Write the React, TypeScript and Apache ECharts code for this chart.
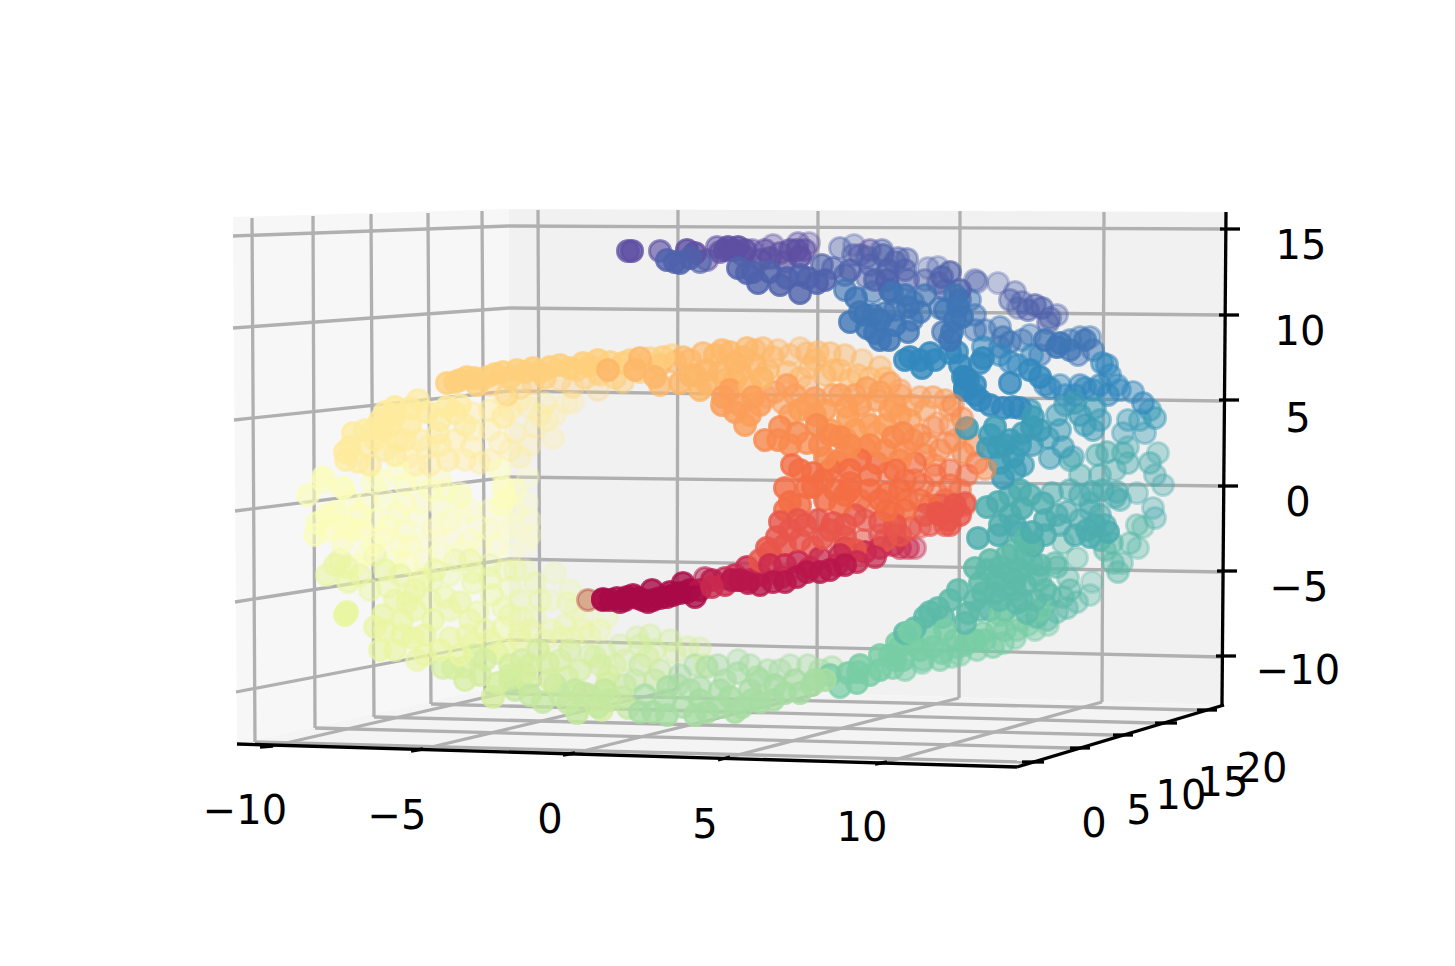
import React, { useEffect, useRef } from "react";
import * as echarts from "echarts";

// Projected picture coordinates: [x, y, depth] (depth 1 = nearest, 0.3 = farthest)
type P = number[];
const purple: P[] = [[632,251,.9],[628,251,.8],[660,251,.7],[687,250,.95],[695,253,.9],[707,260,.6],[717,247,.6],[728,247,.9],[738,247,.9],[733,250,.9],[725,250,.85],[752,250,.5],[743,255,.7],[773,245,.4],[780,253,.6],[798,243,.45],[809,243,.35],[797,250,.7],[800,257,.8],[770,258,.7],[760,260,.7],[745,250,.8],[720,252,.7],[765,250,.6],[790,250,.7],[805,250,.6],[785,262,.7],[870,250,.5],[860,255,.5]];
const indigo: P[] = [[667,260,.95],[680,263,1],[675,262,1],[738,268,.9],[747,273,.95],[758,283,1],[753,272,.9],[787,278,1],[800,293,1],[817,283,1],[808,278,1],[822,265,.7],[833,268,.6],[840,248,.45],[854,245,.35],[850,270,.7],[853,255,.5],[867,257,.5],[882,250,.5],[883,255,.65],[907,259,.5],[898,258,.5],[888,270,.8],[887,280,.8],[908,280,.6],[867,278,.5],[928,268,.35],[938,267,.35],[942,277,.7],[938,283,.55],[975,280,.4],[977,282,.4],[998,283,.35],[1015,292,.4],[1022,302,.45],[1018,308,.4],[1035,305,.6],[1042,308,.6],[1057,315,.4],[1048,323,.5],[770,272,.9],[780,285,1],[800,275,.85],[825,280,.85],[845,275,.65],[870,265,.6],[875,280,.75],[890,290,.8],[905,270,.6],[895,262,.55],[925,280,.5],[950,272,.7],[945,290,.6],[960,290,.75],[1010,300,.5],[1028,310,.6],[1050,318,.5],[690,258,1],[700,262,.7]];
const midBlue: P[] = [[845,290,.7],[856,298,1],[873,292,.6],[892,293,.8],[913,302,.6],[908,307,.8],[850,322,1],[873,315,.8],[885,313,.7],[912,320,.7],[908,332,.8],[867,328,1],[875,333,1],[889,340,1],[940,308,.6],[958,307,.9],[962,317,1],[970,300,.55],[955,295,.8],[943,332,.7],[952,332,.9],[985,330,.5],[1000,327,.5],[1003,337,.6],[1010,342,.6],[1022,340,.5],[1030,335,.45],[1057,347,.9],[1060,343,.9],[1080,337,.45],[1090,337,.45],[1085,340,.7],[1093,350,.6],[1078,355,.55],[860,312,.8],[880,320,.9],[895,325,.9],[895,310,.7],[925,295,.7],[905,295,.8],[920,312,.75],[955,320,.9],[945,310,.75],[960,300,.7],[975,315,.55],[950,340,.85],[1000,347,.55],[1045,340,.8],[1070,350,.75],[1070,340,.5],[880,340,1],[865,315,.8],[975,330,.55],[1040,355,.55]];
const blue: P[] = [[910,357,1],[922,368,1],[930,353,1],[920,360,1],[957,352,.8],[950,353,.8],[983,347,.6],[980,363,.8],[965,377,1],[965,388,1],[963,377,1],[965,390,1],[983,358,.9],[1010,362,.6],[1032,355,.55],[1010,383,1],[1040,377,.9],[1050,388,.6],[1065,395,.55],[1107,365,.6],[1102,363,.6],[1117,385,.5],[1133,392,.5],[1085,388,.6],[1093,390,.6],[1108,395,.6],[1143,403,.6],[980,400,1],[1003,408,1],[1013,407,.8],[975,395,.9],[990,405,1],[968,380,1],[960,365,1],[975,385,1],[1030,370,.9],[1018,365,.55],[1045,385,.6],[1060,385,.5],[1080,385,.55],[1075,395,.6],[1100,385,.6],[1120,390,.5],[1000,355,.6],[1110,375,.55],[935,360,1],[905,360,1],[1020,408,.8]];
const tealBlue: P[] = [[995,427,1],[1033,417,.8],[1032,427,1],[1023,433,.8],[1032,445,.7],[1057,415,.6],[1080,415,.7],[1095,408,.6],[1093,430,.6],[1075,403,.65],[1048,438,.6],[1063,447,.6],[1050,458,.6],[1073,457,.5],[1155,418,.55],[1128,420,.5],[1123,433,.45],[1145,433,.45],[998,447,1],[1013,457,.9],[1023,465,.7],[988,448,1],[1000,463,1],[1003,478,1],[967,428,1],[1010,440,.85],[1030,410,.7],[1040,430,.85],[1005,445,.95],[1020,445,.8],[1015,470,.75],[990,435,1],[1060,430,.6],[1100,420,.55],[1085,425,.6],[1065,405,.55],[1150,410,.55],[1140,420,.5]];
const teal: P[] = [[1097,455,.55],[1107,452,.55],[1123,453,.5],[1128,447,.45],[1128,463,.5],[1158,453,.4],[1150,463,.5],[1155,475,.45],[1163,485,.4],[1080,475,.5],[1070,460,.55],[1020,490,.8],[1070,490,.55],[1092,492,.7],[1103,490,.6],[1117,492,.55],[1115,497,.55],[1137,493,.4],[1090,503,.5],[1052,493,.6],[1043,503,.8],[1022,508,.9],[998,502,1],[987,507,1],[1067,512,.6],[1057,515,.7],[1153,508,.4],[1155,518,.4],[1000,525,1],[978,538,1],[998,535,.95],[1020,533,.8],[1032,532,.95],[1033,545,.85],[1080,520,.6],[1087,530,.8],[1090,537,.8],[1108,532,.9],[1105,525,.65],[1010,495,.8],[1010,515,.9],[1015,525,.9],[1045,520,.8],[1060,525,.65],[1075,535,.75],[1095,525,.8],[1100,540,.6],[1100,515,.6],[1120,500,.5],[1080,495,.6],[1090,510,.55],[1045,535,.8],[1100,475,.5],[1115,470,.45],[1030,495,.8]];
const seaGreen: P[] = [[1013,550,.8],[1007,555,.8],[1025,555,.8],[1032,563,.8],[1037,575,.7],[1040,580,.6],[1112,543,.6],[1105,550,.55],[1130,543,.45],[1138,548,.4],[1137,525,.45],[1143,527,.4],[1063,543,.45],[1055,563,.6],[1077,558,.4],[1068,578,.45],[1092,582,.35],[1113,563,.5],[1122,563,.45],[1118,572,.5],[1057,567,.6],[975,568,1],[987,570,1],[1000,567,.9],[1010,572,.9],[958,590,1],[980,583,1],[997,580,.9],[983,593,.95],[995,593,.95],[1003,587,.85],[938,608,1],[943,617,.95],[925,617,1],[915,628,1],[905,633,1],[968,613,.9],[965,623,.9],[980,610,.7],[1022,600,.8],[1017,603,.75],[1035,600,.7],[1050,595,.6],[1063,597,.55],[1077,602,.45],[1067,608,.5],[1027,613,.7],[1047,620,.5],[1037,617,.6],[1057,612,.5],[1000,600,.75],[1015,590,.7],[1025,585,.8],[1045,590,.7],[1005,610,.7],[1045,605,.6],[1015,580,.85],[1020,570,.85],[1040,565,.75],[1030,545,.85],[990,560,.9],[1025,540,.9],[975,600,.85],[950,600,.95],[930,612,1],[990,610,.7],[1070,590,.55],[1090,595,.4]];
const green: P[] = [[997,628,.6],[983,633,.7],[972,640,.7],[1017,630,.55],[1028,625,.5],[1048,625,.45],[1003,643,.55],[993,647,.6],[977,650,.55],[957,647,.6],[952,657,.5],[942,653,.7],[923,660,.6],[922,663,.5],[933,647,.85],[913,643,.9],[900,647,.9],[905,670,.6],[1015,638,.5],[910,632,1],[897,643,.95],[880,655,1],[903,660,.9],[858,672,1],[848,673,1],[870,675,.85],[857,683,.85],[840,687,.8],[893,668,.7],[830,675,.85],[880,670,.9],[890,655,.9],[920,650,.95],[930,635,.9],[945,630,.95],[955,640,.75],[965,645,.65],[985,640,.7],[1005,630,.6],[1020,620,.55],[1035,630,.5],[1000,615,.7],[960,655,.5],[975,640,.7],[940,660,.6],[895,660,.8],[860,665,.9],[1040,610,.6]];
const lightGreen: P[] = [[832,667,.45],[820,670,.5],[808,665,.45],[812,685,.9],[800,693,.9],[785,693,.9],[773,700,.85],[760,702,.9],[742,707,.8],[730,697,.85],[720,707,.9],[707,712,.95],[768,670,.45],[780,670,.45],[757,677,.55],[738,660,.4],[718,665,.5],[738,673,.6],[707,667,.5],[700,687,.6],[683,707,.7],[667,715,.9],[653,712,.85],[640,712,.8],[668,687,.7],[678,685,.55],[795,680,.7],[775,685,.8],[750,690,.7],[760,680,.6],[720,690,.7],[700,700,.8],[690,690,.6],[665,700,.75],[645,695,.65],[790,665,.4],[750,665,.45],[725,680,.6],[680,675,.5],[695,665,.45],[735,712,.85],[695,715,.95],[752,700,.85],[815,680,.85],[825,680,.85]];
const yellowGreen: P[] = [[628,708,.7],[655,680,.55],[635,680,.5],[622,697,.6],[577,713,.9],[598,707,.9],[568,703,.8],[543,702,.8],[605,690,.8],[583,693,.8],[625,685,.6],[610,700,.8],[590,695,.75],[560,695,.7],[575,690,.75],[555,685,.7],[530,695,.8],[515,690,.75],[510,680,.7],[660,670,.45],[640,665,.45]];
const paleGreen: P[] = [[637,637,.4],[650,635,.4],[670,640,.4],[688,647,.35],[700,648,.35],[648,657,.45],[675,653,.4],[625,660,.4],[705,665,.45],[605,653,.4],[607,683,.6],[602,710,.75],[567,677,.65],[608,675,.55],[595,657,.45],[528,683,.75],[525,673,.7],[493,697,.85],[498,683,.8],[480,675,.8],[548,663,.75],[538,650,.7],[522,660,.7],[497,653,.6],[465,667,.7],[453,668,.7],[443,668,.7],[655,650,.4],[620,645,.35],[640,645,.4],[615,665,.45],[600,665,.5],[590,655,.4],[580,670,.6],[560,660,.6],[570,650,.55],[530,665,.7],[510,665,.7],[510,675,.75],[485,660,.7],[550,680,.75],[475,655,.65],[465,680,.75]];
const lime: P[] = [[450,638,.6],[467,635,.55],[472,643,.6],[417,660,.6],[380,650,.7],[375,627,.7],[383,615,.7],[402,620,.7],[413,638,.75],[402,635,.7],[433,620,.65],[347,612,.9],[345,615,.9],[407,603,.55],[408,595,.5],[370,590,.5],[348,582,.65],[327,575,.6],[335,565,.6],[347,567,.55],[388,587,.5],[423,580,.5],[432,580,.45],[450,575,.4],[445,597,.5],[460,602,.6],[478,612,.5],[503,608,.5],[492,595,.5],[473,583,.5],[473,572,.5],[510,587,.35],[505,570,.35],[525,570,.3],[535,583,.4],[555,573,.3],[570,590,.3],[550,600,.3],[568,603,.35],[503,628,.5],[522,618,.4],[535,617,.35],[520,633,.45],[552,630,.4],[562,637,.35],[572,638,.4],[590,635,.35],[583,630,.35],[583,618,.3],[607,617,.3],[588,600,.9],[340,560,.6],[360,575,.55],[375,555,.55],[385,570,.6],[400,575,.55],[415,590,.55],[430,600,.5],[395,600,.6],[385,630,.7],[395,650,.7],[425,635,.7],[440,650,.7],[425,655,.65],[415,610,.6],[435,570,.5],[455,560,.45],[470,560,.45],[490,565,.4],[490,578,.45],[515,570,.35],[520,600,.4],[540,600,.35],[530,630,.45],[510,615,.45],[485,630,.55],[470,620,.55],[450,610,.55],[490,640,.6],[460,655,.7],[505,650,.65],[520,640,.55],[545,640,.45],[565,625,.35],[575,610,.3],[600,630,.35]];
const paleYellow: P[] = [[308,495,.7],[323,482,.5],[343,488,.5],[367,502,.5],[317,523,.7],[315,535,.7],[327,515,.7],[335,512,.7],[343,542,.6],[352,530,.65],[362,530,.6],[367,553,.55],[355,565,.5],[383,535,.5],[398,513,.45],[405,503,.5],[417,517,.4],[422,503,.35],[395,560,.5],[407,563,.5],[420,577,.45],[440,505,.45],[460,497,.45],[462,515,.35],[433,530,.35],[453,537,.35],[478,527,.35],[463,550,.4],[440,553,.45],[480,547,.35],[497,545,.35],[505,497,.65],[502,505,.6],[513,525,.3],[530,520,.3],[525,543,.3],[527,503,.3],[323,477,.7],[343,488,.6],[372,482,.5],[398,470,.55],[440,480,.45],[460,493,.45],[528,477,.3],[503,487,.6],[330,530,.65],[345,525,.65],[360,515,.6],[350,500,.55],[375,520,.55],[375,545,.55],[390,525,.5],[405,530,.45],[410,545,.45],[425,540,.4],[425,560,.45],[450,520,.35],[470,510,.35],[445,490,.45],[430,490,.5],[420,480,.5],[405,485,.55],[385,500,.5],[380,480,.5],[490,530,.35],[470,540,.35],[505,530,.3],[515,510,.35],[490,510,.4],[500,470,.5],[515,490,.5],[530,535,.3],[510,555,.3],[440,525,.35],[400,545,.5]];
const yellow: P[] = [[345,452,.8],[346,460,.75],[358,462,.7],[353,433,.8],[367,447,.6],[383,430,.8],[395,407,1],[395,415,.9],[380,420,.8],[397,440,.7],[418,400,.7],[427,412,.9],[447,407,.85],[455,413,.7],[473,413,.45],[473,430,.4],[438,433,.65],[420,440,.55],[448,460,.55],[428,447,.5],[408,457,.5],[480,463,.4],[472,447,.4],[503,417,.6],[505,397,.45],[528,407,.35],[545,403,.35],[567,403,.3],[553,438,.3],[535,427,.35],[515,433,.35],[500,443,.35],[520,457,.35],[547,420,.3],[573,402,.25],[365,430,.75],[375,440,.75],[390,425,.85],[410,425,.8],[405,440,.65],[385,450,.65],[370,465,.65],[395,455,.6],[415,465,.5],[430,465,.5],[440,445,.55],[440,420,.7],[465,425,.6],[455,440,.5],[465,460,.45],[490,430,.4],[490,410,.5],[510,410,.45],[520,400,.4],[540,415,.35],[555,415,.3],[530,445,.3],[510,450,.35],[490,460,.4],[460,405,.75],[410,408,.9],[385,412,.85],[375,428,.8],[350,447,.8]];
const amber: P[] = [[447,383,.95],[455,382,.95],[467,377,.9],[477,385,.9],[487,377,.7],[503,372,1],[517,370,.95],[533,368,1],[550,367,1],[560,365,.95],[577,370,.7],[597,373,.45],[598,360,.9],[583,363,.9],[573,387,.35],[598,390,.3],[533,383,.5],[507,395,.45],[623,363,.8],[623,382,.5],[600,375,.5],[648,368,.5],[663,357,.75],[672,355,.55],[460,380,.9],[475,378,.85],[495,374,.95],[510,378,.8],[525,372,1],[540,372,.95],[570,368,.9],[590,366,.85],[545,378,.7],[490,385,.5],[520,388,.4],[560,380,.45],[585,378,.5],[610,362,.75],[630,360,.7],[650,358,.6],[615,378,.6],[640,372,.7]];
const apricot: P[] = [[608,370,1],[640,358,.8],[635,370,.95],[655,377,.9],[680,383,.9],[683,357,.65],[703,353,.7],[722,350,.75],[707,370,.9],[707,383,.9],[725,380,.6],[747,348,.7],[735,363,.95],[743,357,.8],[763,348,.55],[778,350,.45],[773,357,.55],[762,378,.95],[750,387,.95],[800,348,.4],[807,353,.5],[818,352,.55],[830,353,.55],[810,367,.6],[840,370,.55],[833,370,.55],[788,372,.55],[862,360,.4],[858,375,.5],[880,367,.5],[660,365,.7],[675,362,.7],[690,360,.7],[715,355,.8],[730,352,.75],[695,375,.85],[720,372,.85],[740,372,.9],[755,365,.8],[768,370,.7],[755,350,.6],[790,355,.45],[815,360,.5],[845,355,.5],[825,375,.6],[800,378,.55],[850,380,.55],[870,378,.5],[885,378,.55],[735,380,.8],[700,390,.9],[690,375,.85],[660,385,.75]];
const orange: P[] = [[723,397,.9],[722,405,1],[753,397,.95],[767,397,.5],[750,415,1],[745,425,1],[787,385,.8],[807,387,.4],[783,403,.6],[807,405,.85],[833,395,.6],[847,407,.8],[867,388,.7],[877,400,.7],[890,383,.6],[900,395,.5],[900,390,.5],[920,397,.5],[933,397,.55],[890,410,.8],[910,420,.7],[848,417,.85],[865,417,.45],[730,390,.9],[740,405,1],[760,405,.9],[735,412,.95],[775,392,.7],[795,395,.7],[815,398,.8],[825,410,.85],[840,395,.7],[855,395,.7],[860,405,.8],[880,392,.65],[895,405,.7],[912,405,.6],[925,410,.55],[945,400,.55],[950,410,.5],[870,425,.8],[885,425,.85],[900,415,.75],[830,430,.9],[790,415,.8],[800,410,.85],[815,415,.95],[855,430,.9]];
const deepOrange: P[] = [[780,427,1],[765,440,1],[778,440,1],[797,433,1],[807,443,.8],[817,425,1],[840,437,.9],[845,438,.8],[877,433,.5],[893,437,.9],[913,440,.7],[933,427,.45],[938,423,.4],[947,443,.5],[927,443,.5],[963,453,.7],[903,433,.85],[790,445,.95],[820,445,.95],[830,435,1],[850,445,.95],[870,445,.9],[885,450,.9],[905,450,.8],[920,435,.65],[925,455,.7],[940,450,.6],[955,440,.5],[965,430,.45],[950,425,.4],[975,445,.55],[935,465,.6],[900,460,.8],[845,455,.95],[825,458,1],[865,448,.85]];
const redOrange: P[] = [[792,465,1],[813,473,1],[837,462,.9],[860,460,.9],[877,463,.85],[888,473,.6],[915,463,.7],[950,470,.6],[967,475,.6],[977,463,.6],[785,488,1],[807,487,1],[823,480,1],[850,483,.95],[915,480,.6],[790,502,1],[813,487,1],[840,505,.85],[850,490,1],[887,493,.95],[907,500,.7],[923,485,.6],[937,493,.5],[867,507,.55],[887,510,.9],[893,513,.8],[800,470,1],[830,470,.95],[850,470,.95],[870,475,.85],[895,470,.8],[905,480,.7],[935,475,.6],[960,490,.6],[950,485,.6],[900,490,.85],[870,490,.9],[835,490,1],[800,505,1],[785,510,1],[860,500,.7],[920,500,.7],[945,500,.65],[965,505,.6],[880,500,.95],[930,505,.75],[905,510,.85],[845,495,.85],[825,500,.95]];
const red: P[] = [[780,522,1],[798,520,1],[777,537,.95],[818,520,1],[833,523,.9],[865,520,.7],[953,510,.9],[948,520,.85],[945,525,.7],[937,513,.8],[910,528,.7],[920,527,.5],[770,552,1],[767,548,1],[823,538,.9],[845,537,.95],[863,540,.6],[813,547,.8],[790,530,1],[805,525,1],[845,525,.95],[855,515,.8],[880,522,.85],[895,525,.85],[925,515,.8],[960,515,.85],[965,503,.7],[940,505,.7],[885,540,.8],[900,535,.75],[760,560,1],[785,545,1],[830,530,.9],[800,540,.85],[855,550,.95],[940,515,.9],[955,505,.85],[950,525,.75],[930,525,.7]];
const crimson: P[] = [[798,562,1],[820,558,.8],[845,548,.9],[880,535,.5],[893,545,.7],[908,548,.55],[915,548,.45],[875,557,.8],[857,562,.95],[837,565,.95],[782,577,1],[738,580,.85],[760,575,.95],[747,567,.95],[712,587,1],[770,565,1],[785,565,1],[810,568,.95],[840,555,.95],[865,552,.85],[880,548,.75],[895,535,.6],[900,548,.6],[725,585,.9],[750,580,.9],[735,575,.9]];
const rubine: P[] = [[807,572,1],[820,572,1],[797,577,1],[732,580,.95],[725,578,.7],[748,583,1],[773,582,1],[740,580,1],[760,585,1],[785,582,1],[830,570,1],[845,565,1],[705,578,.6],[700,590,.95],[687,592,.9],[712,580,.8]];
const wine: P[] = [[683,583,.85],[695,597,.95],[653,600,1],[643,600,1],[652,590,.9],[627,597,1],[633,595,1],[620,602,1],[603,600,1],[667,597,.95],[680,593,.95],[603,599,1],[617,598,1],[610,600,1],[625,600,1],[638,598,1],[660,598,.95],[673,595,.95],[690,590,.9],[670,592,.9],[648,602,1]];
// Back points that the picture shows laid over nearer ones
const overOrange: P[] = [[953,405,.5],[962,418,.55],[985,469,.55]];
const overWine: P[] = [[588,600,.36]];

const bands: [P[], string][] = [
  [purple, "#5e4fa2"], [indigo, "#4f62ab"], [midBlue, "#3f75b5"], [blue, "#3288bd"], [tealBlue, "#3c9cb6"],
  [teal, "#4cacae"], [seaGreen, "#5cbaa8"], [green, "#78cda5"], [lightGreen, "#a6dca2"], [yellowGreen, "#c3e89d"], [paleGreen, "#d4ee9c"],
  [lime, "#e9f6a0"], [paleYellow, "#fbfdb8"], [yellow, "#feeb9c"], [amber, "#fecf7c"], [apricot, "#fdb768"],
  [orange, "#fb9d59"], [deepOrange, "#f98a4e"], [redOrange, "#f46d43"], [red, "#e8554a"], [crimson, "#c9294f"], [rubine, "#b8174b"], [wine, "#a90a47"],
];
const overBands: [P[], string][] = [[overOrange, "#f98a4e"], [overWine, "#b5134c"]];

// Panes: polygons of the three walls
const paneLeft = [[233,217],[509,209],[509,684],[237,744]];
const paneBack = [[509,209],[1226,212],[1222,705],[509,684]];
const paneFloor = [[237,744],[509,684],[1222,705],[1017,767]];
const paneFills = ["#f7f7f7", "#f1f1f1", "#f4f4f4"];

// Grid segments [x1, y1, x2, y2]
const leftWallZ = [[233,236,509,226],[233,328,509,308],[234,420,509,391],[235,511,509,477],[235,602,509,559],[236,692,509,640]];
const backWallZ = [[509,226,1222,229],[509,308,1222,315],[509,391,1222,401],[509,477,1222,486],[509,559,1222,572],[509,640,1222,657]];
const leftWallY = [[252,218,255,742],[313,216,315,728],[371,214,374,717],[428,213,431,704],[482,211,485,693]];
const backWallX = [[538,210,540,685],[678,210,677,690],[818,211,817,694],[960,211,959,698],[1104,212,1102,702]];
const floorX = [[273,746,539,685],[423,749,677,689],[575,753,817,694],[730,757,959,698],[887,762,1102,702]];
const floorY = [[255,742,1022,762],[315,728,1070,748],[374,717,1113,735],[431,704,1155,723],[485,693,1197,710]];

// Axis lines and tick marks [x1, y1, x2, y2]
const axisLines = [[237,744,1017,767],[1017,767,1224,705],[1226,212,1222,705]];
const zTicks = [[1220,229,1240,229],[1219,315,1239,315],[1219,400,1239,400],[1218,486,1238,486],[1217,571,1237,571],[1216,656,1236,656]];
const xTicks = [[260,747,273,746],[411,751,423,749],[563,755,575,753],[718,760,730,757],[875,764,887,762]];
const yTicks = [[1022,762,1044,762],[1070,748,1090,748],[1113,735,1133,735],[1155,723,1177,723],[1197,710,1217,710]];

// Tick labels and where they sit
const zLabels = ["15", "10", "5", "0", "\u22125", "\u221210"];
const zLabelPos = [[1301,245],[1300,331],[1298,418],[1298,502],[1299,587],[1298,670]];
const xLabels = ["\u221210", "\u22125", "0", "5", "10"];
const xLabelPos = [[245,810],[397,815],[550,819],[705,824],[862,827]];
const yLabels = ["0", "5", "10", "15", "20"];
const yLabelPos = [[1094,823],[1139,810],[1181,795],[1223,782],[1262,768]];

const rgba = (hex: string, a: number) => {
  const n = parseInt(hex.slice(1), 16);
  return `rgba(${n >> 16},${(n >> 8) & 255},${n & 255},${a})`;
};
const toItem = (p: P, c: string) => {
  const a = Math.min(1, p[2] * 1.15);
  return { value: p, itemStyle: { color: rgba(c, a), borderColor: rgba(c, a) } };
};

export default function App() {
  const ref = useRef<HTMLDivElement>(null);
  useEffect(() => {
    document.body.style.margin = "0";
    const chart = echarts.init(ref.current!, undefined, { renderer: "svg" });
    const points = bands
      .flatMap(([pts, c]) => pts.map((p) => toItem(p, c)))
      .sort((a, b) => a.value[2] - b.value[2]);
    const over = overBands.flatMap(([pts, c]) => pts.map((p) => toItem(p, c)));
    const segs = (data: number[][], stroke: string, lineWidth: number, z: number) => ({
      type: "custom",
      coordinateSystem: "cartesian2d",
      silent: true,
      clip: false,
      z,
      encode: { x: [0, 2], y: [1, 3] },
      data,
      renderItem: (_: any, api: any) => {
        const a = api.coord([api.value(0), api.value(1)]);
        const b = api.coord([api.value(2), api.value(3)]);
        return { type: "line", shape: { x1: a[0], y1: a[1], x2: b[0], y2: b[1] }, style: { stroke, lineWidth } };
      },
    });
    const labels = (texts: string[], pos: number[][]) => ({
      type: "custom",
      coordinateSystem: "cartesian2d",
      silent: true,
      clip: false,
      z: 6,
      encode: { x: 0, y: 1 },
      data: pos,
      renderItem: (params: any, api: any) => {
        const a = api.coord([api.value(0), api.value(1)]);
        return {
          type: "text",
          x: a[0],
          y: a[1],
          style: {
            text: texts[params.dataIndex],
            fill: "#000",
            font: '40px "DejaVu Sans"',
            align: "center",
            verticalAlign: "middle",
          },
        };
      },
    });
    const scatterBase = {
      type: "scatter",
      symbol: "circle",
      symbolSize: 21,
      silent: true,
      clip: false,
      itemStyle: { borderWidth: 3 },
    };
    chart.setOption({
      animation: false,
      backgroundColor: "#ffffff",
      grid: { left: 0, right: 0, top: 0, bottom: 0 },
      xAxis: { type: "value", min: 0, max: 1455, show: false },
      yAxis: { type: "value", min: 0, max: 966, inverse: true, show: false },
      tooltip: { show: false },
      series: [
        {
          type: "custom",
          coordinateSystem: "cartesian2d",
          silent: true,
          clip: false,
          z: 1,
          encode: { x: 0, y: 1 },
          data: [[0, 0], [1, 0], [2, 0]],
          renderItem: (params: any, api: any) => {
            const poly = [paneLeft, paneBack, paneFloor][params.dataIndex];
            return {
              type: "polygon",
              shape: { points: poly.map((p) => api.coord(p)) },
              style: { fill: paneFills[params.dataIndex] },
            };
          },
        },
        segs([...leftWallZ, ...backWallZ, ...leftWallY, ...backWallX, ...floorX, ...floorY], "#b0b0b0", 3.3, 2),
        segs([...axisLines, ...zTicks, ...xTicks, ...yTicks], "#000000", 3.3, 3),
        { ...scatterBase, z: 4, data: points },
        { ...scatterBase, z: 5, data: over },
        labels(zLabels, zLabelPos),
        labels(xLabels, xLabelPos),
        labels(yLabels, yLabelPos),
      ],
    });
    return () => chart.dispose();
  }, []);
  return <div ref={ref} style={{ width: 1455, height: 966 }} />;
}
